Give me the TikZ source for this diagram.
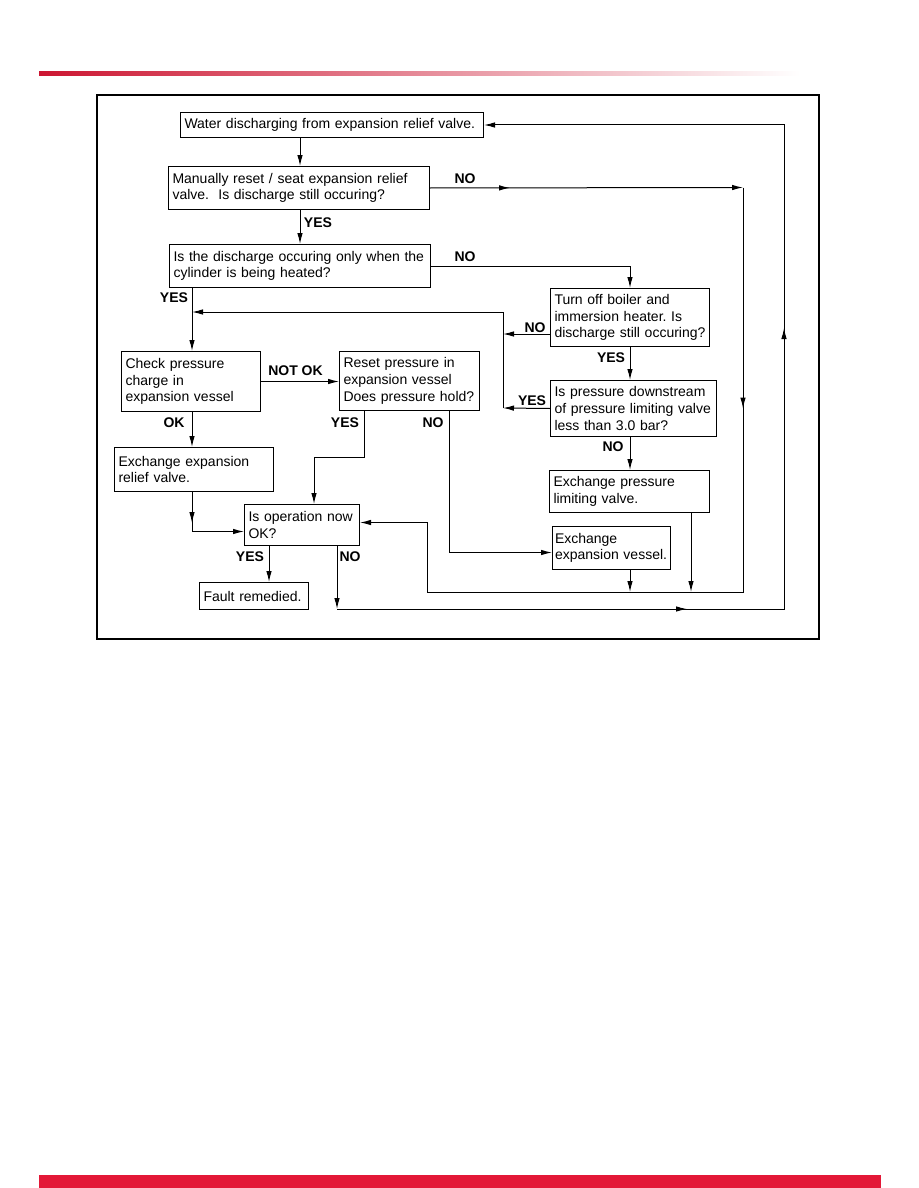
\documentclass[tikz,border=0pt]{standalone}
\usepackage{fontspec}
\setmainfont{Liberation Sans}
\frenchspacing
\usetikzlibrary{arrows.meta, decorations.markings}
\definecolor{manualred}{RGB}{227, 24, 55}

\begin{document}
\begin{tikzpicture}[x=1pt, y=-1pt,
        >={Latex[length=11pt, width=5.5pt]},
        every node/.style={font=\fontsize{14}{16.7}\selectfont},
        box/.style={draw, line width=1pt, anchor=north west, align=left, inner xsep=4pt, inner ysep=1pt},
        lbl/.style={font=\fontsize{14}{16.7}\selectfont\bfseries, inner sep=1pt},
        flow/.style={line width=1pt},
        midarrow/.style={postaction={decorate, decoration={markings, mark=at position #1 with {\arrow{>}}}}}]

        % Page
        \useasboundingbox (0,0) rectangle (918,1188);
        \shade[left color=manualred!90!black, middle color=manualred!85!white, right color=white] (39,72) rectangle (800,75.5);
        \fill[manualred] (39,1175) rectangle (881,1188);

        % Frame
        \draw[line width=1.3pt] (97,95) rectangle (819,639);

        % Boxes, left column
        \node[box, text width=295pt, minimum height=25pt] (water) at (180,112) {Water discharging from expansion relief valve.};
        \node[box, text width=253pt, minimum height=43pt] (reset) at (168,166) {Manually reset / seat expansion relief\\valve.\ \ Is discharge still occuring?};
        \node[box, text width=253pt, minimum height=43pt] (heated) at (169,244) {Is the discharge occuring only when the\\cylinder is being heated?};
        \node[box, text width=131pt, minimum height=60pt] (check) at (121,351) {Check pressure\\charge in\\expansion vessel};
        \node[box, text width=132pt, minimum height=59pt] (repress) at (339,351) {Reset pressure in\\expansion vessel\\Does pressure hold?};
        \node[box, text width=151pt, minimum height=44pt] (relief) at (114,447) {Exchange expansion\\relief valve.};
        \node[box, text width=107pt, minimum height=41pt] (opok) at (244,504) {Is operation now\\OK?};
        \node[box, text width=101pt, minimum height=27pt] (fixed) at (199,582) {Fault remedied.};

        % Boxes, right column
        \node[box, text width=151pt, minimum height=58pt] (boiler) at (550,288) {Turn off boiler and\\immersion heater. Is\\discharge still occuring?};
        \node[box, text width=158pt, minimum height=56pt] (downstream) at (550,380) {Is pressure downstream\\of pressure limiting valve\\less than 3.0 bar?};
        \node[box, text width=152pt, minimum height=42pt] (limitvalve) at (549,470) {Exchange pressure\\limiting valve.};
        \node[box, text width=113pt, inner xsep=2.5pt, minimum height=43pt] (vessel) at (552,526) {Exchange\\expansion vessel.};

        % Corners of the lines
        \coordinate (noA) at (743,187.5);
        \coordinate (noB) at (743,592);
        \coordinate (noC) at (427,592);
        \coordinate (merge) at (192,312);
        \coordinate (split) at (503,408);
        \coordinate (lpA) at (337,609);
        \coordinate (lpB) at (784,609);

        % Lines
        \draw[flow, ->] (water.south -| 300,0) -- (reset.north -| 300,0);
        \draw[flow, ->] (reset.south -| 300,0) -- (heated.north -| 300,0);
        \draw[flow, ->, midarrow=80pt] (reset.east) -- (noA);
        \draw[flow, ->, midarrow=221pt] (noA) -- (noB) -- (noC) |- ([yshift=2.5pt]opok.east);
        \draw[flow, ->] (heated.east) -| (boiler.north);
        \draw[flow, ->] (heated.south -| merge) -- (check.north -| merge);
        \draw[flow, ->] (boiler.south) -- (downstream.north -| boiler.south);
        \draw[flow, ->] (downstream.south -| boiler.south) -- (limitvalve.north -| boiler.south);
        \draw[flow, ->] (boiler.west |- 0,334) -- (split |- 0,334);
        \draw[flow, ->] (downstream.west) -- (split);
        \draw[flow, ->] (split) |- (merge);
        \draw[flow, ->] (check.east) -- (check.east -| repress.west);
        \draw[flow, ->] (check.south -| merge) -- (relief.north -| merge);
        \draw[flow, ->, midarrow=31pt] (relief.south -| merge) |- ([yshift=-6.5pt]opok.west);
        \draw[flow, ->] (repress.south -| 364,0) |- (314,457) -- (opok.north -| 314,0);
        \draw[flow, ->] (repress.south -| 449,0) |- ([yshift=-4.5pt]vessel.west);
        \draw[flow, ->] (vessel.south -| boiler.south) -- (noC -| boiler.south);
        \draw[flow, ->] (limitvalve.south -| 691,0) -- (noC -| 691,0);
        \draw[flow, ->] (opok.south -| 269,0) -- (fixed.north -| 269,0);
        \draw[flow, ->] (opok.south -| lpA) -- (lpA);
        \draw[flow, ->, midarrow=350pt, midarrow=728pt] (lpA) -- (lpB) |- (water.east);

        % Labels
        \node[lbl] (yesReset) at (318,223) {YES};
        \node[lbl] (noReset) at (465,179) {NO};
        \node[lbl] (noHeated) at (465,257) {NO};
        \node[lbl] (yesHeated) at (174,298) {YES};
        \node[lbl] (notok) at (295.5,371) {NOT OK};
        \node[lbl] (okCheck) at (174,423) {OK};
        \node[lbl] (yesRepress) at (345,423) {YES};
        \node[lbl] (noRepress) at (433,423) {NO};
        \node[lbl] (noBoiler) at (535,328) {NO};
        \node[lbl] (yesBoiler) at (611,358) {YES};
        \node[lbl] (yesDown) at (532,401) {YES};
        \node[lbl] (noDown) at (613,447) {NO};
        \node[lbl] (yesOp) at (250,557) {YES};
        \node[lbl] (noOp) at (350,557) {NO};

\end{tikzpicture}
\end{document}
